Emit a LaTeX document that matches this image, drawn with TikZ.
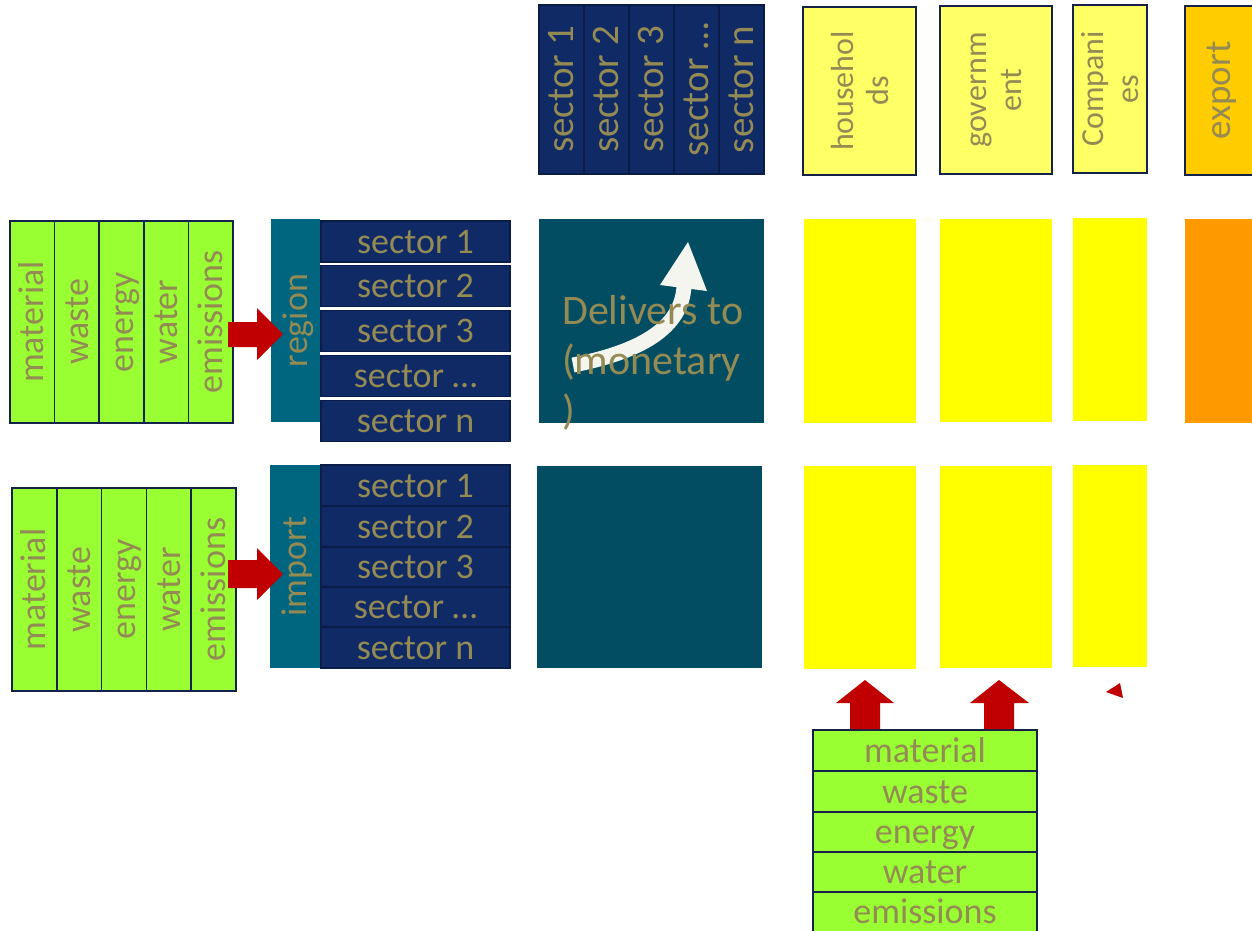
\documentclass[tikz,border=0pt]{standalone}
\usepackage{fontspec}
\setmainfont{Carlito}
\definecolor{olv}{HTML}{948A54}
\definecolor{bd}{HTML}{14224A}
\definecolor{navy}{HTML}{102A66}
\definecolor{navybd}{HTML}{0A1C48}
\definecolor{grn}{HTML}{99FF33}
\definecolor{reg}{HTML}{00657F}
\definecolor{tealsq}{HTML}{034D62}
\definecolor{ylw}{HTML}{FFFF00}
\definecolor{lylw}{HTML}{FFFF66}
\definecolor{exphd}{HTML}{FFCC00}
\definecolor{expcol}{HTML}{FF9900}
\definecolor{rd}{HTML}{C00000}
\definecolor{wht}{HTML}{F5F5EF}
\begin{document}
\begin{tikzpicture}[x=1pt,y=-1pt,
  big/.style={font=\fontsize{36}{40}\selectfont, text=olv, text height=28pt, text depth=5pt},
  gcol/.style={big, rotate=90, draw=bd, fill=grn, line width=1.5pt, inner sep=0pt, minimum height=44.6pt},
  greenrow/.style={big, draw=bd, fill=grn, line width=1.5pt, inner sep=0pt, minimum width=224pt},
  srow/.style={big, draw=navybd, fill=navy, line width=1.2pt, inner sep=0pt, minimum width=189pt},
  scol/.style={big, font=\fontsize{39}{42}\selectfont, rotate=90, draw=navybd, fill=navy, line width=1.5pt, inner sep=0pt, minimum width=169pt, minimum height=45pt},
  regbox/.style={big, rotate=90, fill=reg, inner sep=0pt},
  hdr/.style={rotate=90, draw=bd, fill=lylw, line width=1.5pt, inner sep=0pt, align=center, text=olv, font=\fontsize{32}{35}\selectfont},
  blk/.style={inner sep=0pt, anchor=north west},
  redarrow/.style={fill=rd, draw=none}
]
\useasboundingbox (0,0) rectangle (1252,930);

% ---------- top header: sectors ----------
\foreach \t [count=\i] in {sector 1,sector 2,sector 3,sector …,sector n}{
  \node[scol] (hs\i) at (516.5+45*\i,89.5) {\t};
}

% ---------- top header: final demand ----------
\node[hdr, minimum width=168pt, minimum height=113pt] (hh) at (859.5,91) {househol\\ds};
\node[hdr, minimum width=168pt, minimum height=112pt] (gov) at (996,90) {governm\\ent};
\node[hdr, minimum width=168pt, minimum height=74pt] (comp) at (1110,89) {Compani\\es};
\node[hdr, fill=exphd, minimum width=169pt, minimum height=74pt, font=\fontsize{37}{40}\selectfont] (exp) at (1222,90.5) {export};

% ---------- upper row ----------
\foreach \t [count=\i] in {material,waste,energy,water,emissions}{
  \node[gcol, minimum width=202pt] (ga\i) at (-12.3+44.6*\i,322) {\t};
}
\node[regbox, minimum width=203pt, minimum height=49pt] (region) at (295.5,320.5) {region};
\node[srow, minimum height=41pt] (ra1) at (415.5,241.5) {sector 1};
\node[srow, minimum height=41pt] (ra2) at (415.5,286) {sector 2};
\node[srow, minimum height=41pt] (ra3) at (415.5,331) {sector 3};
\node[srow, minimum height=41pt] (ra4) at (415.5,376) {sector …};
\node[srow, minimum height=41pt] (ra5) at (415.5,421) {sector n};

\fill[tealsq] (539,219) rectangle (764,423);

% white curved arrow
\draw[wht, line width=15pt] (573,365) .. controls (640,352) and (682,328) .. (684,286);
\fill[wht] (660,285) -- (688,242) -- (707,291) -- cycle;
\node[blk, align=left, text=olv, font=\fontsize{42}{50}\selectfont] (deliv) at (562,295) {Delivers to\\(monetary\\)};

\fill[ylw] (804,219) rectangle (916,423);
\fill[ylw] (940,219) rectangle (1052,422);
\fill[ylw] (1073,218) rectangle (1147,421);
\fill[expcol] (1185,219) rectangle (1260,423);

% red arrow upper
\coordinate (ta) at (283,334);
\fill[redarrow] (228,322) -- (257,322) -- (257,308) -- (ta) -- (257,360) -- (257,347) -- (228,347) -- cycle;

% ---------- lower row ----------
\foreach \t [count=\i] in {material,waste,energy,water,emissions}{
  \node[gcol, minimum width=203pt, minimum height=44.8pt] (gb\i) at (-10.4+44.8*\i,589.5) {\t};
}
\node[regbox, minimum width=203pt, minimum height=50pt] (import) at (295,566.5) {import};
\node[srow, minimum height=41pt] (rb1) at (415.5,485.5) {sector 1};
\node[srow, minimum height=41pt] (rb2) at (415.5,526.5) {sector 2};
\node[srow, minimum height=40pt] (rb3) at (415.5,567) {sector 3};
\node[srow, minimum height=40pt] (rb4) at (415.5,607) {sector …};
\node[srow, minimum height=41pt] (rb5) at (415.5,647.5) {sector n};

\fill[tealsq] (537,466) rectangle (762,668);
\fill[ylw] (804,466) rectangle (916,669);
\fill[ylw] (940,466) rectangle (1052,668);
\fill[ylw] (1073,465) rectangle (1147,667);

\coordinate (tb) at (283,574);
\fill[redarrow] (228,560) -- (257,560) -- (257,548) -- (tb) -- (257,600) -- (257,588) -- (228,588) -- cycle;

% ---------- bottom stack ----------
\node[greenrow, minimum height=41pt] (bs1) at (925,750.5) {material};
\node[greenrow, minimum height=41pt] (bs2) at (925,791.5) {waste};
\node[greenrow, minimum height=40pt] (bs3) at (925,832) {energy};
\node[greenrow, minimum height=40pt] (bs4) at (925,872) {water};
\node[greenrow, minimum height=40pt] (bs5) at (925,912) {emissions};

% up arrows
\fill[redarrow] (850,729) -- (850,703) -- (836,703) -- (865,680) -- (894,703) -- (880,703) -- (880,729) -- cycle;
\fill[redarrow] (984,729) -- (984,703) -- (970,703) -- (999,680) -- (1029,703) -- (1014,703) -- (1014,729) -- cycle;
% small triangle
\fill[redarrow] (1106,692) -- (1120,683) -- (1123,698) -- cycle;
\end{tikzpicture}
\end{document}
